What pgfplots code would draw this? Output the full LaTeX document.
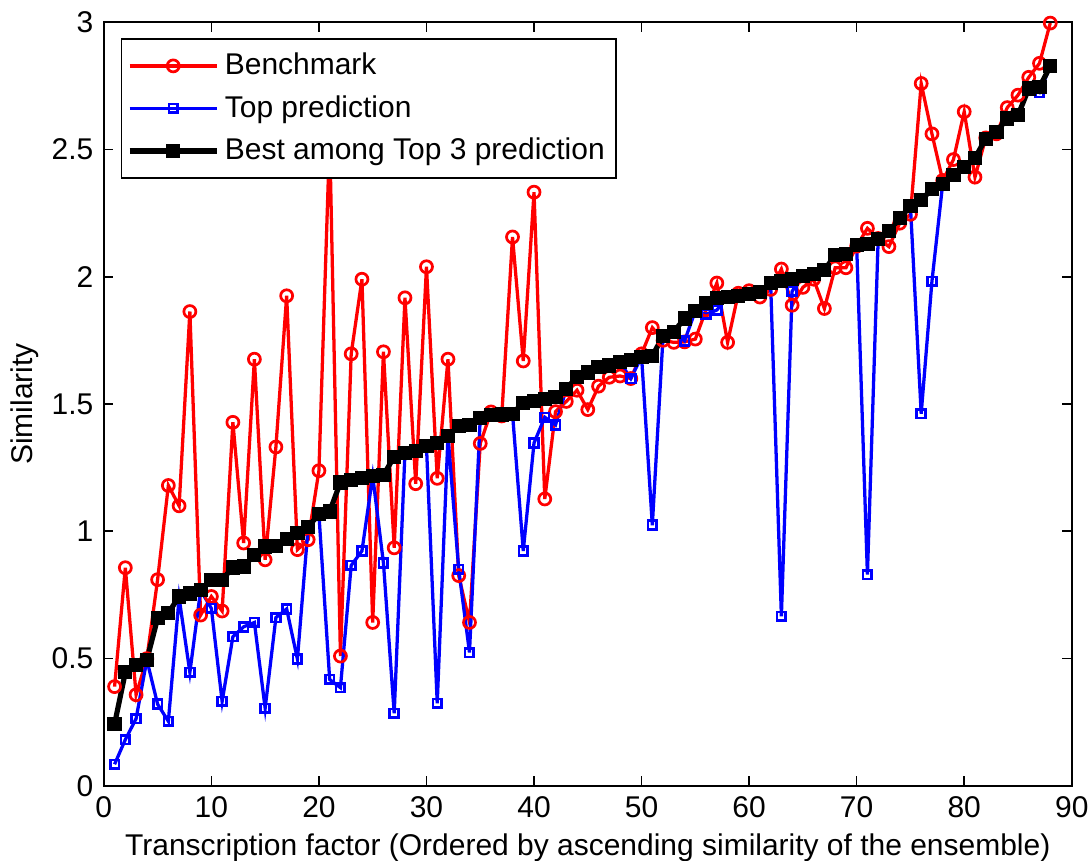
\documentclass[border=0pt]{standalone}
\usepackage{fontspec}
\setmainfont{Liberation Sans}
\usepackage{pgfplots}
\pgfplotsset{compat=1.18}

% Benchmark
\def\benchdata{
(1,0.39) (2,0.857) (3,0.358) (4,0.50) (5,0.81) (6,1.18) (7,1.10) (8,1.863)
(9,0.671) (10,0.744) (11,0.687) (12,1.428) (13,0.954) (14,1.676) (15,0.888)
(16,1.331) (17,1.925) (18,0.928) (19,0.967) (20,1.238) (21,2.55) (22,0.51)
(23,1.697) (24,1.99) (25,0.642) (26,1.705) (27,0.935) (28,1.917) (29,1.187)
(30,2.039) (31,1.208) (32,1.676) (33,0.826) (34,0.642) (35,1.345) (36,1.469)
(37,1.453) (38,2.156) (39,1.669) (40,2.332) (41,1.127) (42,1.47) (43,1.51)
(44,1.554) (45,1.478) (46,1.57) (47,1.605) (48,1.61) (49,1.60) (50,1.697)
(51,1.80) (52,1.75) (53,1.742) (54,1.744) (55,1.755) (56,1.87) (57,1.975)
(58,1.742) (59,1.935) (60,1.945) (61,1.92) (62,1.95) (63,2.03) (64,1.888)
(65,1.958) (66,1.99) (67,1.875) (68,2.035) (69,2.035) (70,2.12) (71,2.19)
(72,2.15) (73,2.118) (74,2.21) (75,2.245) (76,2.759) (77,2.561) (78,2.378)
(79,2.46) (80,2.648) (81,2.391) (82,2.545) (83,2.561) (84,2.664) (85,2.713)
(86,2.783) (87,2.838) (88,2.996)}

% Top prediction
\def\topdata{
(1,0.085) (2,0.182) (3,0.264) (4,0.495) (5,0.321) (6,0.254) (7,0.739) (8,0.446)
(9,0.769) (10,0.697) (11,0.332) (12,0.586) (13,0.625) (14,0.642) (15,0.305)
(16,0.661) (17,0.695) (18,0.498) (19,1.018) (20,1.067) (21,0.418) (22,0.386)
(23,0.866) (24,0.923) (25,1.217) (26,0.875) (27,0.285) (28,1.309) (29,1.314)
(30,1.335) (31,0.324) (32,1.375) (33,0.85) (34,0.524) (35,1.445) (36,1.456)
(37,1.459) (38,1.462) (39,0.923) (40,1.347) (41,1.448) (42,1.418) (43,1.559)
(44,1.607) (45,1.624) (46,1.645) (47,1.651) (48,1.664) (49,1.60) (50,1.686)
(51,1.024) (52,1.767) (53,1.784) (54,1.748) (55,1.866) (56,1.852) (57,1.869)
(58,1.92) (59,1.925) (60,1.933) (61,1.941) (62,1.974) (63,0.666) (64,1.943)
(65,2.003) (66,2.012) (67,2.025) (68,2.085) (69,2.09) (70,2.123) (71,0.83)
(72,2.148) (73,2.178) (74,2.229) (75,2.277) (76,1.462) (77,1.982) (78,2.365)
(79,2.398) (80,2.431) (81,2.466) (82,2.542) (83,2.569) (84,2.621) (85,2.634)
(86,2.739) (87,2.723) (88,2.826)}

% Best among top 3
\def\bestdata{
(1,0.243) (2,0.446) (3,0.476) (4,0.495) (5,0.658) (6,0.679) (7,0.744) (8,0.756)
(9,0.769) (10,0.81) (11,0.81) (12,0.858) (13,0.862) (14,0.907) (15,0.94)
(16,0.943) (17,0.969) (18,0.993) (19,1.018) (20,1.067) (21,1.078) (22,1.192)
(23,1.2) (24,1.208) (25,1.217) (26,1.221) (27,1.293) (28,1.309) (29,1.314)
(30,1.335) (31,1.347) (32,1.375) (33,1.412) (34,1.417) (35,1.445) (36,1.456)
(37,1.459) (38,1.462) (39,1.505) (40,1.511) (41,1.518) (42,1.526) (43,1.559)
(44,1.607) (45,1.624) (46,1.645) (47,1.651) (48,1.664) (49,1.673) (50,1.686)
(51,1.689) (52,1.767) (53,1.784) (54,1.836) (55,1.866) (56,1.897) (57,1.917)
(58,1.92) (59,1.925) (60,1.933) (61,1.941) (62,1.974) (63,1.982) (64,1.992)
(65,2.003) (66,2.012) (67,2.025) (68,2.085) (69,2.09) (70,2.123) (71,2.127)
(72,2.148) (73,2.178) (74,2.229) (75,2.277) (76,2.30) (77,2.345) (78,2.365)
(79,2.398) (80,2.431) (81,2.466) (82,2.542) (83,2.569) (84,2.621) (85,2.634)
(86,2.739) (87,2.745) (88,2.826)}

\begin{document}
\fontsize{11}{13}\selectfont
\begin{tikzpicture}
\begin{axis}[
  scale only axis,
  width=355.2pt, height=280.3pt,
  xmin=0, xmax=90, ymin=0, ymax=3,
  xtick={0,10,20,30,40,50,60,70,80,90},
  ytick={0,0.5,1,1.5,2,2.5,3},
  tick align=inside, major tick length=3.5pt,
  tick style={line width=0.6pt, black},
  axis line style={line width=0.7pt},
  /pgf/number format/assume math mode=true,
  tick label style={font=\fontsize{11}{13}\selectfont},
  xlabel={Transcription factor (Ordered by ascending similarity of the ensemble)},
  ylabel={Similarity},
  xlabel style={at={(axis description cs:0.5,-0.0906)}, anchor=base},
  ylabel style={at={(axis description cs:-0.0732,0.5)}, anchor=base},
  label style={font=\fontsize{11}{13}\selectfont},
  legend style={at={(0.0175,0.9787)}, anchor=north west, draw=black,
    line width=0.6pt, fill=white, inner xsep=2pt, inner ysep=3pt,
    row sep=2pt, font=\fontsize{11}{13}\selectfont, cells={anchor=west}},
  legend image code/.code={
    \draw[mark repeat=2, mark phase=2] plot coordinates {(0pt,0pt) (16pt,0pt) (32pt,0pt)};
  },
]
\addplot[red, line width=1.2pt, mark=o, mark size=2.2pt, mark options={line width=1pt}]
  coordinates {\benchdata};
\addlegendentry{Benchmark}
\addplot[blue, line width=1.2pt, mark=square, mark size=1.6pt, mark options={line width=1pt}]
  coordinates {\topdata};
\addlegendentry{Top prediction}
\addplot[black, line width=1.9pt, mark=square*, mark size=2.3pt, mark options={line width=0.6pt, fill=black}]
  coordinates {\bestdata};
\addlegendentry{Best among Top 3 prediction}
\coordinate (sw) at (rel axis cs:0,0);
\coordinate (ne) at (rel axis cs:1,1);
\end{axis}
\pgfresetboundingbox
\path ([xshift=-38.1pt,yshift=-27.3pt]sw) rectangle ([xshift=6.7pt,yshift=8.1pt]ne);
\end{tikzpicture}
\end{document}
